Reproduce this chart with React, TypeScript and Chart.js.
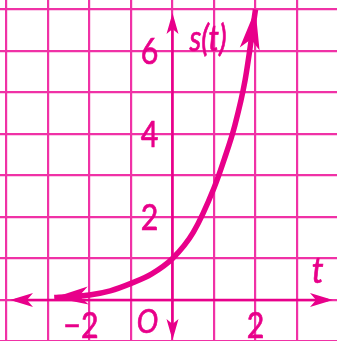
import React, { useEffect, useRef } from "react";
import { Chart, registerables } from "chart.js";

Chart.register(...registerables);

// ---- data ----
const tValues = [-2.85, -2.5, -2, -1.5, -1, -0.5, 0, 0.5, 1, 1.25, 1.5, 1.75, 2];
const sValues = [0.06, 0.08, 0.12, 0.22, 0.4, 0.63, 1, 1.63, 2.7, 3.4, 4.2, 5.3, 7.0];

const xGridTicks = [-4, -3, -2, -1, 0, 1, 2, 3];
const yGridTicks = [-1, 0, 1, 2, 3, 4, 5, 6, 7];

const yLabelValues = [2, 4, 6];
const xLabelValues = [-2, 2];

const X_MIN = -4.157;
const X_MAX = 3.964;
const Y_MIN = -0.988;
const Y_MAX = 7.229;

const yAxisTitle = "s(t)";
const xAxisTitle = "t";
const originLabel = "O";

const GRID = "#f032a6";
const INK = "#e8008a";

function drawArrow(
  ctx: CanvasRenderingContext2D,
  tipX: number,
  tipY: number,
  dx: number,
  dy: number,
  len: number,
  half: number,
  notch: number
) {
  const m = Math.hypot(dx, dy) || 1;
  const ux = dx / m;
  const uy = dy / m;
  const px = -uy;
  const py = ux;
  const bx = tipX - ux * len;
  const by = tipY - uy * len;
  ctx.beginPath();
  ctx.moveTo(tipX, tipY);
  ctx.lineTo(bx + px * half, by + py * half);
  ctx.lineTo(tipX - ux * (len - notch), tipY - uy * (len - notch));
  ctx.lineTo(bx - px * half, by - py * half);
  ctx.closePath();
  ctx.fill();
}

const FONT = "Lato, 'Open Sans', sans-serif";

function drawText(
  ctx: CanvasRenderingContext2D,
  text: string,
  x: number,
  y: number,
  align: CanvasTextAlign,
  italic: boolean,
  size: number,
  sx: number
) {
  ctx.save();
  ctx.translate(x, y);
  ctx.scale(sx, 1);
  ctx.font = `${italic ? "italic " : ""}${size}px ${FONT}`;
  ctx.textAlign = align;
  ctx.textBaseline = "alphabetic";
  ctx.fillStyle = INK;
  ctx.strokeStyle = INK;
  ctx.lineWidth = 0.7;
  ctx.fillText(text, 0, 0);
  ctx.strokeText(text, 0, 0);
  ctx.restore();
}

const axesPlugin = {
  id: "axesPlugin",
  beforeDatasetsDraw(chart: any) {
    const { ctx, chartArea, scales } = chart;
    const xs = scales.x;
    const ys = scales.y;
    const x0 = xs.getPixelForValue(0);
    const y0 = ys.getPixelForValue(0);
    ctx.save();
    ctx.strokeStyle = INK;
    ctx.fillStyle = INK;
    ctx.lineWidth = 2.5;
    // x axis
    const xl = chartArea.left + 10;
    const xr = chartArea.right - 4;
    ctx.beginPath();
    ctx.moveTo(xl + 5, y0);
    ctx.lineTo(xr - 5, y0);
    ctx.stroke();
    drawArrow(ctx, xl, y0, -1, 0, 23, 7, 6);
    drawArrow(ctx, xr, y0, 1, 0, 23, 7, 6);
    // y axis
    const yt = chartArea.top + 13;
    const yb = chartArea.bottom - 1;
    ctx.beginPath();
    ctx.moveTo(x0, yt + 5);
    ctx.lineTo(x0, yb - 5);
    ctx.stroke();
    drawArrow(ctx, x0, yt, 0, -1, 21, 6, 5);
    drawArrow(ctx, x0, yb, 0, 1, 21, 6, 5);
    ctx.restore();
  },
  afterDatasetsDraw(chart: any) {
    const { ctx, scales } = chart;
    const xs = scales.x;
    const ys = scales.y;
    const meta = chart.getDatasetMeta(0);
    const pts = meta.data;
    ctx.save();
    ctx.fillStyle = INK;
    if (pts.length > 1) {
      const first = pts[0];
      const last = pts[pts.length - 1];
      const fdx = first.x - (first.cp2x ?? pts[1].x);
      const fdy = first.y - (first.cp2y ?? pts[1].y);
      drawArrow(ctx, first.x, first.y, fdx, fdy, 34, 9, 9);
      const ldx = last.x - (last.cp1x ?? pts[pts.length - 2].x);
      const ldy = last.y - (last.cp1y ?? pts[pts.length - 2].y);
      drawArrow(ctx, last.x, last.y, ldx, ldy, 40, 10, 10);
    }
    ctx.restore();

    const x0 = xs.getPixelForValue(0);
    const y0 = ys.getPixelForValue(0);
    // y tick labels
    yLabelValues.forEach((v) => {
      drawText(ctx, String(v), x0 - 23, ys.getPixelForValue(v) + 13, "center", false, 37, 0.82);
    });
    // x tick labels
    xLabelValues.forEach((v) => {
      const px = xs.getPixelForValue(v);
      if (v < 0) {
        drawText(ctx, "\u2212" + String(-v), px + 9, y0 + 38, "right", false, 37, 0.82);
      } else {
        drawText(ctx, String(v), px, y0 + 38, "center", false, 37, 0.82);
      }
    });
    // origin
    drawText(ctx, originLabel, x0 - 25, y0 + 33, "center", true, 32, 0.9);
    // axis titles
    drawText(ctx, yAxisTitle, x0 + 17, ys.getPixelForValue(6), "left", true, 36, 0.82);
    drawText(ctx, xAxisTitle, xs.getPixelForValue(3.5), ys.getPixelForValue(0.42), "center", true, 37, 0.9);
  },
};

export default function App() {
  const ref = useRef<HTMLCanvasElement | null>(null);
  useEffect(() => {
    if (!ref.current) return;
    const chart = new Chart(ref.current, {
      type: "line",
      data: {
        datasets: [
          {
            data: tValues.map((t, i) => ({ x: t, y: sValues[i] })),
            borderColor: INK,
            borderWidth: 5.5,
            pointRadius: 0,
            cubicInterpolationMode: "monotone",
            fill: false,
            clip: false as any,
          },
        ],
      },
      options: {
        animation: false,
        responsive: false,
        devicePixelRatio: 1,
        layout: { padding: 0, autoPadding: false },
        plugins: { legend: { display: false }, tooltip: { enabled: false }, title: { display: false } },
        scales: {
          x: {
            type: "linear",
            min: X_MIN,
            max: X_MAX,
            afterBuildTicks: (s: any) => {
              s.ticks = xGridTicks.map((v) => ({ value: v }));
            },
            ticks: { display: false },
            grid: { color: GRID, lineWidth: 2.2, drawTicks: false },
            border: { display: false },
          },
          y: {
            type: "linear",
            min: Y_MIN,
            max: Y_MAX,
            afterBuildTicks: (s: any) => {
              s.ticks = yGridTicks.map((v) => ({ value: v }));
            },
            ticks: { display: false },
            grid: { color: GRID, lineWidth: 2.2, drawTicks: false },
            border: { display: false },
          },
        },
      },
      plugins: [axesPlugin],
    } as any);
    return () => chart.destroy();
  }, []);
  return (
    <div style={{ position: "fixed", left: 0, top: 0, width: 337, height: 341, background: "#fff" }}>
      <canvas ref={ref} width={337} height={341} style={{ width: 337, height: 341, display: "block" }} />
    </div>
  );
}
